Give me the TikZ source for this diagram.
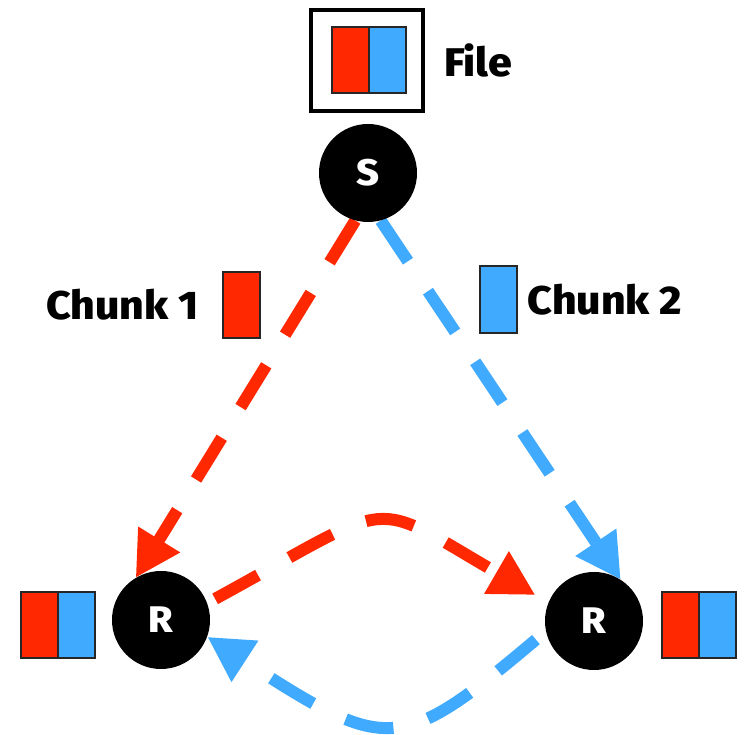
\documentclass[tikz,border=0pt]{standalone}
\usepackage{fontspec}
\setmainfont{Fira Sans}
\newfontfamily\tagfont{Fira Sans ExtraBold}[FakeStretch=1.07]
\usepackage{tikz}
\usetikzlibrary{arrows.meta,positioning,backgrounds}
\definecolor{chunkred}{RGB}{255,40,0}
\definecolor{chunkblue}{RGB}{64,170,255}
\tikzstyle{peer} = [circle, fill=black, minimum size=98pt, inner sep=0pt, text=white, font=\fontsize{37}{40}\tagfont]
\tikzstyle{piece} = [rectangle, draw=black!85, line width=2pt, minimum width=37pt, minimum height=66pt, inner sep=0pt, outer sep=0pt]
\tikzstyle{tagtext} = [inner sep=0pt, font=\fontsize{40}{44}\tagfont]
\tikzstyle{redflow} = [line width=12pt, color=chunkred, dash pattern=on 49pt off 36pt, -{Triangle[length=45pt,width=46pt]}]
\tikzstyle{blueflow} = [line width=12pt, color=chunkblue, dash pattern=on 49pt off 36pt, -{Triangle[length=45pt,width=46pt]}]

\begin{document}
\begin{tikzpicture}[x=1pt,y=1pt]
\useasboundingbox (0,0) rectangle (747,735);
% File
\node (file) [rectangle, draw, line width=4pt, minimum width=112pt, minimum height=101pt] at (367,674.5) {};
\node (filered) [piece, fill=chunkred] at (350.5,675) {};
\node (fileblue) [piece, fill=chunkblue, right=0pt of filered] {};
\node (filelbl) [tagtext, right=19pt of file] {File};
% Peers
\node (sender) [peer] at (368,562) {S};
\node (recvl) [peer] at (161,115) {R};
\node (recvr) [peer] at (594,114) {R};
% Chunks in flight
\node (chunk1) [piece, fill=chunkred] at (241,430) {};
\node (chunk1lbl) [tagtext, left=24pt of chunk1] {Chunk 1};
\node (chunk2) [piece, fill=chunkblue, minimum height=67pt] at (498,435) {};
\node (chunk2lbl) [tagtext, right=11pt of chunk2] {Chunk 2};
% Copies held by the receivers
\node (lred) [piece, fill=chunkred] at (39,109.5) {};
\node (lblue) [piece, fill=chunkblue, right=0pt of lred] {};
\node (rred) [piece, fill=chunkred] at (680,109.5) {};
\node (rblue) [piece, fill=chunkblue, right=0pt of rred] {};
% Transfers
\begin{scope}[on background layer]
\draw [redflow] (sender.255) -- (recvl.121);
\draw [blueflow] (sender.285) -- (recvr.57);
\draw [redflow, shorten <=9pt, shorten >=15pt] (recvl.20) .. controls +(194,106) and +(-183,106) .. (recvr.158);
\draw [blueflow, shorten <=13pt] (recvr.192) .. controls +(-146,-123) and +(180,-117) .. (recvl.340);
\end{scope}
\end{tikzpicture}
\end{document}
